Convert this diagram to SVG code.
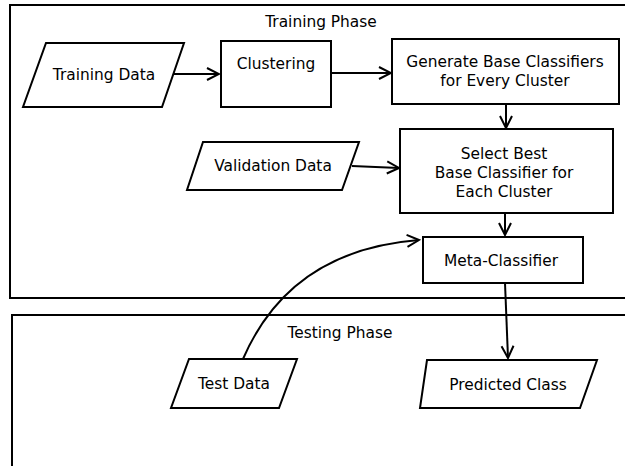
<svg xmlns="http://www.w3.org/2000/svg" width="625" height="466" viewBox="0 0 625 466">
<style>
.box{fill:#fff;stroke:#000;stroke-width:2}
.frame{fill:none;stroke:#000;stroke-width:2}
.lbl{font-family:"DejaVu Sans",sans-serif;font-size:15.4px;fill:#000;text-anchor:middle}
.conn{fill:none;stroke:#000;stroke-width:2}
</style>
<defs>
<marker id="arr" markerUnits="userSpaceOnUse" viewBox="-14 -8 16 16" refX="0" refY="0" markerWidth="16" markerHeight="16" orient="auto">
<path d="M-12,-6 L0,0 L-12,6" fill="none" stroke="#000" stroke-width="2"/>
</marker>
</defs>
<rect width="625" height="466" fill="#fff"/>
<g id="training-phase">
<rect class="frame" x="10" y="5" width="640" height="293"/>
<text class="lbl" x="321" y="27">Training Phase</text>
</g>
<g id="testing-phase">
<rect class="frame" x="12" y="315" width="640" height="200"/>
<text class="lbl" x="340" y="338">Testing Phase</text>
</g>
<g id="connectors">
<line class="conn" x1="173" y1="74" x2="219" y2="74" marker-end="url(#arr)"/>
<line class="conn" x1="331" y1="73" x2="391" y2="73" marker-end="url(#arr)"/>
<line class="conn" x1="506" y1="104" x2="506" y2="128" marker-end="url(#arr)"/>
<line class="conn" x1="352" y1="166" x2="399" y2="168" marker-end="url(#arr)"/>
<line class="conn" x1="505" y1="213" x2="505" y2="235" marker-end="url(#arr)"/>
<line class="conn" x1="505" y1="283" x2="508" y2="358" marker-end="url(#arr)"/>
<path class="conn" d="M243,359 Q290,250 419,240" marker-end="url(#arr)"/>
</g>
<g id="training-data">
<polygon class="box" points="46,43 184,43 162,107 23,107"/>
<text class="lbl" x="104" y="80">Training Data</text>
</g>
<g id="clustering">
<rect class="box" x="221" y="41" width="110" height="66"/>
<text class="lbl" x="276" y="69">Clustering</text>
</g>
<g id="generate">
<rect class="box" x="392" y="39" width="227" height="65"/>
<text class="lbl" x="505" y="67">Generate Base Classifiers</text>
<text class="lbl" x="505" y="86">for Every Cluster</text>
</g>
<g id="validation-data">
<polygon class="box" points="203,142 359,142 342,190 187,190"/>
<text class="lbl" x="273" y="171">Validation Data</text>
</g>
<g id="select">
<rect class="box" x="400" y="129" width="213" height="84"/>
<text class="lbl" x="504" y="159">Select Best</text>
<text class="lbl" x="504" y="178">Base Classifier for</text>
<text class="lbl" x="504" y="197">Each Cluster</text>
</g>
<g id="meta-classifier">
<rect class="box" x="423" y="237" width="160" height="46"/>
<text class="lbl" x="501" y="266">Meta-Classifier</text>
</g>
<g id="test-data">
<polygon class="box" points="189,359 297,359 279,408 171,408"/>
<text class="lbl" x="234" y="389">Test Data</text>
</g>
<g id="predicted-class">
<polygon class="box" points="427,360 597,360 580,408 420,408"/>
<text class="lbl" x="508" y="390">Predicted Class</text>
</g>
</svg>
